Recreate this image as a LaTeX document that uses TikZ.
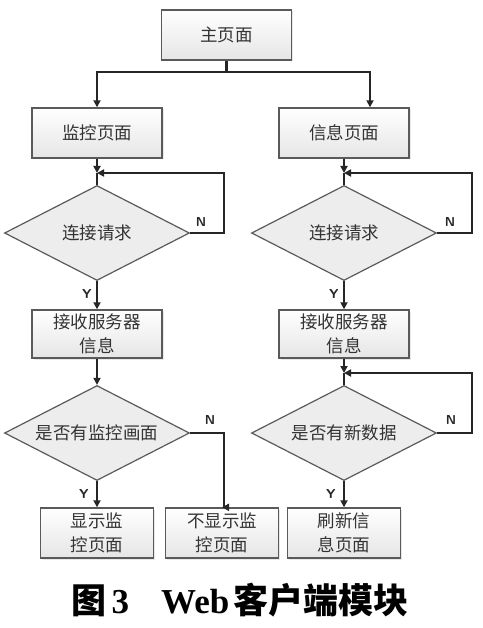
\documentclass[tikz,border=0pt]{standalone}
\usepackage{fontspec}
\setmainfont{Liberation Serif}
\newfontfamily\cjk{Noto Sans CJK SC}
\usetikzlibrary{shapes.geometric,arrows.meta,calc,shadows}
\definecolor{txt}{HTML}{333333}
\definecolor{edge}{HTML}{5A5A5A}
\begin{document}
\begin{tikzpicture}[x=1pt,y=-1pt,
  procbox/.style={draw=edge, line width=1.4pt, top color=white, bottom color=gray!20,
    minimum width=130pt, minimum height=50pt, inner sep=0pt, align=center,
    font=\cjk\fontsize{17.5}{24}\selectfont, text=txt,
    drop shadow={shadow xshift=1.5pt, shadow yshift=-1.5pt, fill=gray!35}},
  endbox/.style={procbox, minimum width=113pt},
  decide/.style={diamond, aspect=2, draw=edge, line width=1.2pt, fill=gray!14,
    minimum width=185pt, minimum height=95pt, inner sep=0pt,
    font=\cjk\fontsize{17.5}{22}\selectfont, text=txt},
  conn/.style={line width=2.2pt, draw=black!85},
  arr/.style={conn, -{Triangle[length=7pt,width=7pt]}},
  lab/.style={font=\sffamily\bfseries\fontsize{13}{13}\selectfont, text=black!85}
]
\useasboundingbox (0,0) rectangle (482,628);

\node[procbox] (main) at (226.5,35) {主页面};
\node[procbox] (mon) at (97,133) {监控页面};
\node[procbox] (info) at (344,133) {信息页面};
\node[decide] (d1) at (97,233) {连接请求};
\node[decide] (d2) at (344,233) {连接请求};
\node[procbox, minimum height=48pt] (recvL) at (97,334) {接收服务器\\信息};
\node[procbox, minimum height=48pt] (recvR) at (344,334) {接收服务器\\信息};
\node[decide] (d3) at (97,433) {是否有监控画面};
\node[decide] (d4) at (344,433) {是否有新数据};
\node[endbox] (show) at (97,533) {显示监\\控页面};
\node[endbox] (noshow) at (222,533) {不显示监\\控页面};
\node[endbox] (refresh) at (344,533) {刷新信\\息页面};

\coordinate (bT) at (226.5,72);
\coordinate (j1) at (97,173);
\coordinate (j2) at (344,173);
\coordinate (j4) at (344,373);

% top branches
\draw[conn] (main.south) -- (bT);
\draw[arr] (bT) -| (mon.north);
\draw[arr] (bT) -| ($(info.north)+(26,0)$);

% left column
\draw[arr] (mon.south) -- (j1);
\draw[conn] (j1) -- (d1.north);
\draw[arr] (d1.east) -- ++(34,0) |- (j1);
\node[lab] (n1) at (201,222) {N};
\draw[arr] (d1.south) -- node[lab, left=1pt, pos=0.45] (y1) {Y} (recvL.north);
\draw[arr] (recvL.south) -- (d3.north);
\draw[arr] (d3.east) -- ++(34,0) |- (noshow.north);
\node[lab] (n3) at (210,420) {N};
\draw[arr] (d3.south) -- node[lab, left=4pt, pos=0.5] (y3) {Y} (show.north);

% right column
\draw[arr] (info.south) -- (j2);
\draw[conn] (j2) -- (d2.north);
\draw[arr] (d2.east) -- ++(35,0) |- (j2);
\node[lab] (n2) at (450,222) {N};
\draw[arr] (d2.south) -- node[lab, left=1pt, pos=0.45] (y2) {Y} (recvR.north);
\draw[arr] (recvR.south) -- (j4);
\draw[conn] (j4) -- (d4.north);
\draw[arr] (d4.east) -- ++(35,0) |- (j4);
\node[lab] (n4) at (451,420) {N};
\draw[arr] (d4.south) -- node[lab, left=4pt, pos=0.5] (y4) {Y} (refresh.north);

% caption
\node[font=\bfseries\fontsize{35}{35}\selectfont] (cap) at (240,600)
  {{\cjk\bfseries 图}\hspace{5pt}3\hspace{32pt}Web\hspace{4pt}{\cjk\bfseries 客户端模块}};
\end{tikzpicture}
\end{document}
